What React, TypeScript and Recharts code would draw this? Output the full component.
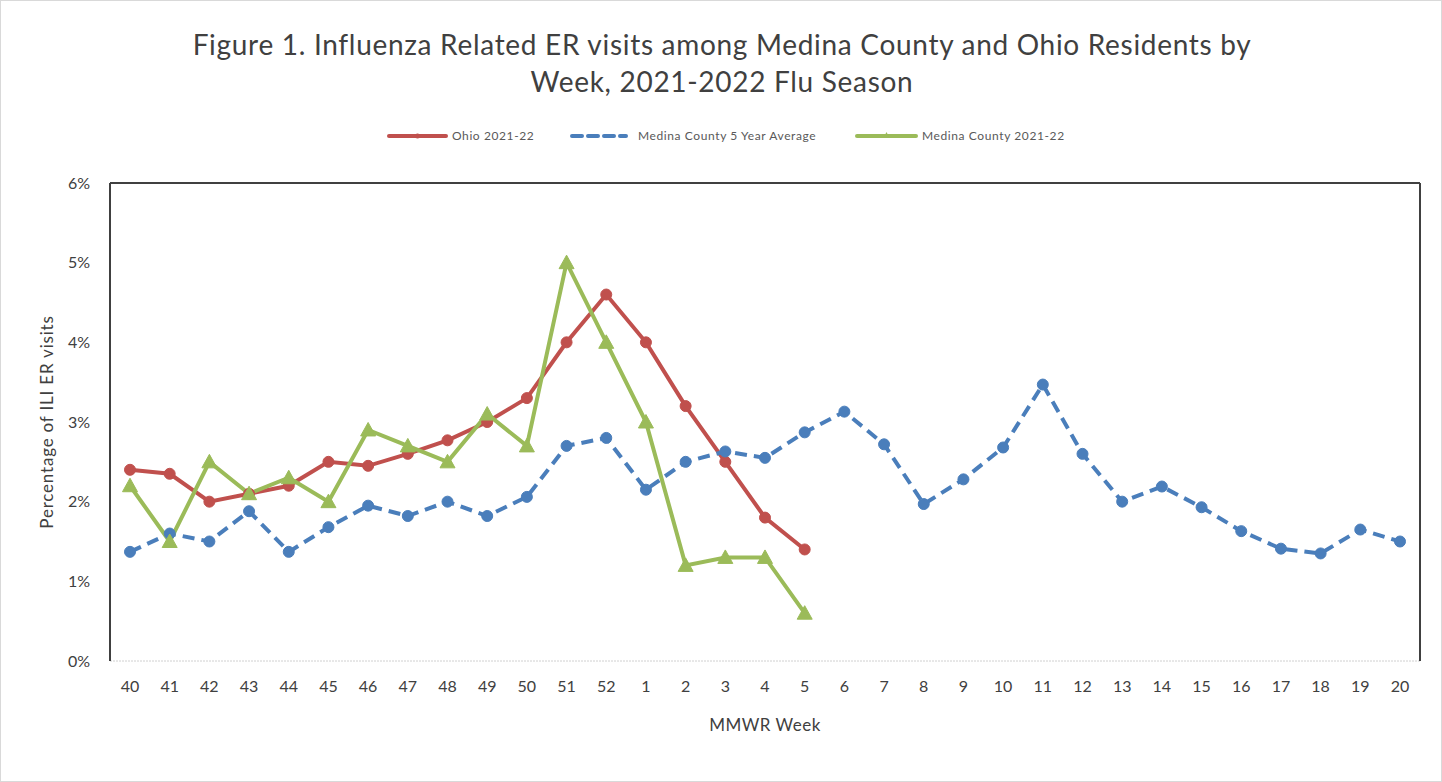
import React from "react";
import {
  LineChart,
  Line,
  XAxis,
  YAxis,
  CartesianGrid,
  Legend,
  ReferenceLine,
} from "recharts";

const weeks: string[] = [
  "40", "41", "42", "43", "44", "45", "46", "47", "48", "49", "50", "51", "52",
  "1", "2", "3", "4", "5", "6", "7", "8", "9", "10", "11", "12", "13", "14",
  "15", "16", "17", "18", "19", "20",
];

const ohio: (number | null)[] = [
  2.4, 2.35, 2.0, 2.1, 2.2, 2.5, 2.45, 2.6, 2.77, 3.0, 3.3, 4.0, 4.6,
  4.0, 3.2, 2.5, 1.8, 1.4,
];

const medinaAvg: number[] = [
  1.37, 1.6, 1.5, 1.88, 1.37, 1.68, 1.95, 1.82, 2.0, 1.82, 2.06, 2.7, 2.8,
  2.15, 2.5, 2.63, 2.55, 2.87, 3.13, 2.72, 1.97, 2.28, 2.68, 3.47, 2.6, 2.0,
  2.19, 1.93, 1.63, 1.41, 1.35, 1.65, 1.5,
];

const medina: (number | null)[] = [
  2.2, 1.5, 2.5, 2.1, 2.3, 2.0, 2.9, 2.7, 2.5, 3.1, 2.7, 5.0, 4.0,
  3.0, 1.2, 1.3, 1.3, 0.6,
];

const yTicks: number[] = [0, 1, 2, 3, 4, 5, 6];

const data = weeks.map((w, i) => ({
  week: w,
  ohio: i < ohio.length ? ohio[i] : null,
  medinaAvg: medinaAvg[i],
  medina: i < medina.length ? medina[i] : null,
}));

const RED = "#c0504d";
const BLUE = "#4a7ebb";
const GREEN = "#9bbb59";
const FONT = "Lato, 'Open Sans', sans-serif";

const CircleDot = (color: string) => (props: any) => {
  const { cx, cy, index } = props;
  if (cx == null || cy == null || props.value == null) return <g key={index} />;
  return <circle key={index} cx={cx} cy={cy} r={5.5} fill={color} stroke={color} />;
};

const TriDot = (color: string) => (props: any) => {
  const { cx, cy, index } = props;
  if (cx == null || cy == null || props.value == null) return <g key={index} />;
  const s = 7.5;
  return (
    <polygon
      key={index}
      points={`${cx},${cy - s} ${cx - s},${cy + s * 0.8} ${cx + s},${cy + s * 0.8}`}
      fill={color}
      stroke={color}
    />
  );
};

const legendLayout: Record<string, { left: number; iconW: number; textLeft: number; dash?: string; marker: string }> = {
  ohio: { left: 387, iconW: 61, textLeft: 452, marker: "circle" },
  medinaAvg: { left: 570, iconW: 58, textLeft: 638, dash: "10 6", marker: "none" },
  medina: { left: 855, iconW: 63, textLeft: 922, marker: "tri" },
};

const renderLegend = (props: any) => {
  const { payload } = props;
  return (
    <div style={{ position: "relative", width: 1442, height: 20 }}>
      {payload.map((entry: any) => {
        const key = entry.dataKey as string;
        const lay = legendLayout[key];
        if (!lay) return null;
        const mid = lay.iconW / 2;
        return (
          <React.Fragment key={key}>
            <svg
              style={{ position: "absolute", left: lay.left, top: 4 }}
              width={lay.iconW}
              height={12}
            >
              <line
                x1={2}
                y1={6}
                x2={lay.iconW - 2}
                y2={6}
                stroke={entry.color}
                strokeWidth={4}
                strokeDasharray={lay.dash}
                strokeLinecap="round"
              />
              {lay.marker === "circle" && <circle cx={mid} cy={6} r={2.5} fill={entry.color} />}
              {lay.marker === "tri" && (
                <polygon points={`${mid},2 ${mid - 3},8 ${mid + 3},8`} fill={entry.color} />
              )}
            </svg>
            <span
              style={{
                position: "absolute",
                left: lay.textLeft,
                top: 2,
                fontFamily: FONT,
                fontSize: 12,
                color: "#595959",
                whiteSpace: "nowrap",
                letterSpacing: 0.6,
              }}
            >
              {entry.value}
            </span>
          </React.Fragment>
        );
      })}
    </div>
  );
};

export default function App() {
  return (
    <div
      style={{
        position: "absolute",
        left: 0,
        top: 0,
        width: 1442,
        height: 782,
        background: "#fff",
        boxSizing: "border-box",
        border: "1px solid #d9d9d9",
        fontFamily: FONT,
      }}
    >
      <div
        style={{
          position: "absolute",
          left: 0,
          top: 25,
          width: 1442,
          textAlign: "center",
          fontSize: 28,
          letterSpacing: 0.7,
          lineHeight: "37px",
          color: "#404040",
          fontFamily: FONT,
        }}
      >
        Figure 1. Influenza Related ER visits among Medina County and Ohio Residents by
        <br />
        Week, 2021-2022 Flu Season
      </div>
      <div style={{ position: "absolute", left: -1, top: -1 }}>
        <LineChart
          width={1442}
          height={782}
          data={data}
          margin={{ top: 183, right: 21, bottom: 61, left: 0 }}
        >
          <CartesianGrid vertical={false} stroke="#d0d0d0" strokeDasharray="2 1" />
          <XAxis
            dataKey="week"
            height={60}
            interval={0}
            padding={{ left: 20, right: 20 }}
            tickLine={false}
            axisLine={false}
            tick={{ fill: "#404040", fontSize: 16, fontFamily: FONT }}
            tickMargin={14}
            label={{
              value: "MMWR Week",
              position: "insideBottom",
              offset: -10,
              fill: "#404040",
              fontSize: 17,
              fontFamily: FONT,
              letterSpacing: 0.5,
            }}
          />
          <YAxis
            yAxisId="left"
            width={110}
            domain={[0, 6]}
            ticks={yTicks}
            tickFormatter={(v: number) => `${v}%`}
            tickLine={false}
            axisLine={{ stroke: "#404040", strokeWidth: 2 }}
            tick={{ fill: "#404040", fontSize: 16, fontFamily: FONT }}
            tickMargin={14}
            label={{
              value: "Percentage of ILI ER visits",
              angle: -90,
              position: "insideLeft",
              offset: 47,
              style: { textAnchor: "middle", letterSpacing: 0.8 },
              fill: "#404040",
              fontSize: 17,
              fontFamily: FONT,
            }}
          />
          <YAxis
            yAxisId="right"
            orientation="right"
            width={1}
            domain={[0, 6]}
            ticks={yTicks}
            tick={false}
            tickLine={false}
            axisLine={{ stroke: "#404040", strokeWidth: 2 }}
          />
          <ReferenceLine yAxisId="left" y={6} stroke="#404040" strokeWidth={2} />
          <Legend
            verticalAlign="middle"
            align="center"
            layout="horizontal"
            wrapperStyle={{ top: 126, left: 0, width: 1442 }}
            content={renderLegend}
          />
          <Line
            yAxisId="left"
            name="Ohio 2021-22"
            dataKey="ohio"
            stroke={RED}
            strokeWidth={4}
            dot={CircleDot(RED)}
            activeDot={false}
            isAnimationActive={false}
            connectNulls={false}
          />
          <Line
            yAxisId="left"
            name="Medina County 5 Year Average"
            dataKey="medinaAvg"
            stroke={BLUE}
            strokeWidth={4}
            strokeDasharray="12 7"
            dot={CircleDot(BLUE)}
            activeDot={false}
            isAnimationActive={false}
          />
          <Line
            yAxisId="left"
            name="Medina County 2021-22"
            dataKey="medina"
            stroke={GREEN}
            strokeWidth={4}
            dot={TriDot(GREEN)}
            activeDot={false}
            isAnimationActive={false}
            connectNulls={false}
          />
        </LineChart>
      </div>
    </div>
  );
}
